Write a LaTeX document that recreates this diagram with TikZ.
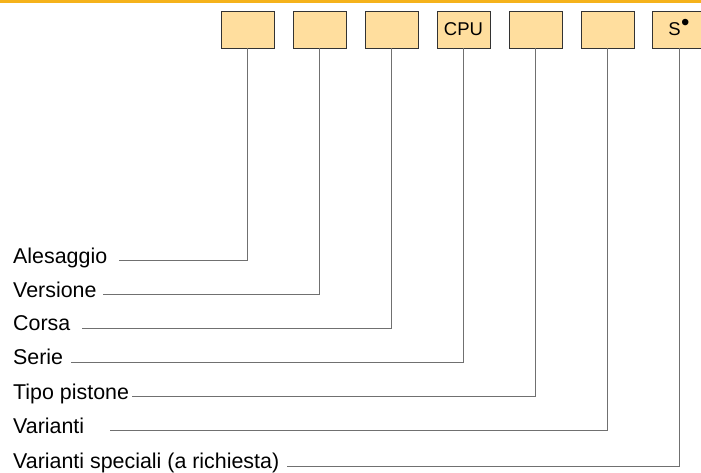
\documentclass[tikz,border=0pt]{standalone}
\usepackage{fontspec}
\setmainfont{Liberation Sans}
\definecolor{bandorange}{HTML}{F5B21B}
\definecolor{fieldfill}{HTML}{FFDE9E}
\definecolor{wiregray}{HTML}{707070}
\begin{document}
\begin{tikzpicture}[x=1pt,y=-1pt,
  field/.style={draw=black!80,fill=fieldfill,line width=0.9pt,minimum width=53pt,minimum height=37pt,inner sep=0pt,font=\fontsize{18.5}{20}\selectfont},
  itemtext/.style={anchor=west,inner sep=0pt,text height=0.72em,text depth=0.21em,font=\fontsize{21.4}{24}\selectfont},
  wire/.style={draw=wiregray,line width=1pt}]
\useasboundingbox (0,0) rectangle (701,473);
\fill[bandorange] (0,0) rectangle (701,3);

% code boxes
\node[field] (b1) at (247.5,29.5) {};
\node[field] (b2) at (319.5,29.5) {};
\node[field] (b3) at (391.5,29.5) {};
\node[field] (b4) at (463.5,29.5) {CPU};
\node[field] (b5) at (535.5,29.5) {};
\node[field] (b6) at (607.5,29.5) {};
\node[field] (b7) at (679,29.5) {S\kern0.5pt\smash{\raisebox{5pt}{\fontsize{24}{24}\selectfont •}}};

% legend
\node[itemtext] (alesaggio) at (13,260.5) {Alesaggio};
\node[itemtext] (versione) at (13,294.5) {Versione};
\node[itemtext] (corsa) at (13,328) {Corsa};
\node[itemtext] (serie) at (13,362) {Serie};
\node[itemtext] (pistone) at (13,396.5) {Tipo pistone};
\node[itemtext] (varianti) at (13,430.5) {Varianti};
\node[itemtext] (speciali) at (13,466) {Varianti speciali (a richiesta)};

\coordinate (alesaggio-end) at (119,260.5);
\coordinate (versione-end) at (103,294.5);
\coordinate (corsa-end) at (82,328);
\coordinate (serie-end) at (71,362);
\coordinate (pistone-end) at (132,396.5);
\coordinate (varianti-end) at (110,430.5);
\coordinate (speciali-end) at (287,466);

\draw[wire] (b1.south) |- (alesaggio-end);
\draw[wire] (b2.south) |- (versione-end);
\draw[wire] (b3.south) |- (corsa-end);
\draw[wire] (b4.south) |- (serie-end);
\draw[wire] (b5.south) |- (pistone-end);
\draw[wire] (b6.south) |- (varianti-end);
\draw[wire] (b7.south) |- (speciali-end);
\end{tikzpicture}
\end{document}
